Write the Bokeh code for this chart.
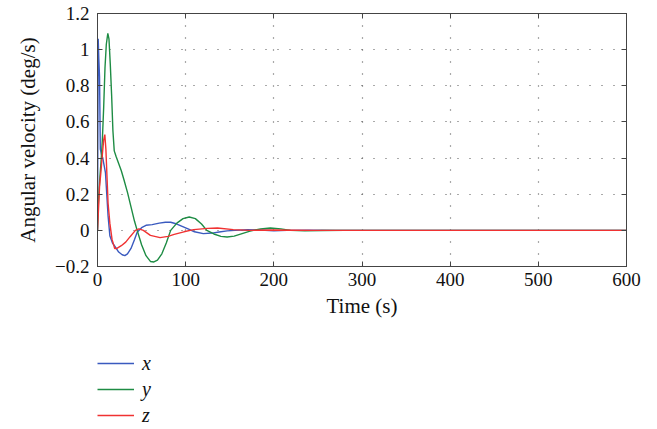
from bokeh.plotting import figure
from bokeh.layouts import column
from bokeh.models import Range1d, LinearAxis, FixedTicker, Legend, LegendItem
from bokeh.embed import file_html
from bokeh.resources import INLINE

# ---- data ----
t_x = [0, 0.8, 1.5, 2.3, 3.2, 4.5, 6, 7.5, 9, 10.5, 12, 14, 17, 20, 24, 28, 31, 34, 38, 42, 45,
       50, 55, 62, 70, 77, 83, 90, 98, 104, 110, 120, 130, 138, 147, 156, 170, 185, 200, 215,
       240, 270, 300, 600]
v_x = [0, 1.06, 0.95, 0.85, 0.45, 0.42, 0.40, 0.36, 0.32, 0.2, 0.08, -0.03, -0.07, -0.09, -0.12,
       -0.135, -0.14, -0.13, -0.1, -0.05, -0.01, 0.015, 0.028, 0.032, 0.04, 0.045, 0.045, 0.035,
       0.018, 0.005, -0.008, -0.018, -0.015, -0.009, -0.003, 0.0, 0.003, 0.002, -0.002, 0.0,
       0.001, 0.0, 0.0, 0.0]

t_y = [0, 1, 2.5, 4, 5.5, 7, 8.5, 10, 11.7, 13, 14.5, 16, 17.5, 19, 21, 24, 27, 30, 34, 38, 42,
       45, 50, 55, 60, 64, 68, 73, 78, 83, 90, 97, 104, 111, 118, 124, 132, 140, 147, 155, 164,
       173, 185, 196, 208, 219, 235, 255, 280, 600]
v_y = [0, 0.15, 0.28, 0.38, 0.5, 0.68, 0.9, 1.03, 1.09, 1.06, 0.92, 0.75, 0.55, 0.44, 0.41, 0.37,
       0.33, 0.28, 0.21, 0.13, 0.05, 0.0, -0.08, -0.14, -0.172, -0.175, -0.165, -0.13, -0.07, 0.0,
       0.04, 0.065, 0.074, 0.065, 0.035, 0.0, -0.02, -0.033, -0.037, -0.032, -0.018, -0.004,
       0.008, 0.013, 0.008, 0.0, -0.003, -0.001, 0.0, 0.0]

t_z = [0, 1, 2.3, 4, 5.5, 7, 8.3, 9.5, 10.5, 12, 14, 16.5, 19.5, 22, 27, 32, 37, 43, 47, 52, 60,
       71, 80, 87, 98, 109, 125, 136, 154, 173, 200, 250, 300, 600]
v_z = [0, 0.1, 0.24, 0.33, 0.42, 0.5, 0.53, 0.45, 0.33, 0.15, 0.04, -0.05, -0.1, -0.1, -0.085,
       -0.065, -0.035, 0.0, 0.008, 0.0, -0.028, -0.04, -0.033, -0.022, -0.008, 0.004, 0.011,
       0.013, 0.004, 0.0, 0.002, 0.0, 0.0, 0.0]

series_names = ["x", "y", "z"]
series_colors = ["#3a5abf", "#1e8c44", "#f03232"]

x_ticks = [0, 100, 200, 300, 400, 500, 600]
y_ticks = [-0.2, 0, 0.2, 0.4, 0.6, 0.8, 1, 1.2]
y_tick_labels = ["\u22120.2", "0", "0.2", "0.4", "0.6", "0.8", "1", "1.2"]

FONT = "Liberation Serif"
AX = "#444444"

p = figure(width=649, height=330, output_backend="svg", toolbar_location=None,
           x_range=Range1d(0, 600), y_range=Range1d(-0.2, 1.2),
           min_border_left=97, min_border_right=23, min_border_top=13, min_border_bottom=64,
           background_fill_color="white", border_fill_color="white")
p.outline_line_color = AX

for ax in (p.xaxis[0], p.yaxis[0]):
    ax.axis_line_color = AX
    ax.major_tick_line_color = AX
    ax.major_tick_in = 5
    ax.major_tick_out = 0
    ax.minor_tick_line_color = None
    ax.major_label_text_font = FONT
    ax.major_label_text_font_size = "19px"
    ax.major_label_text_color = "#111111"
    ax.axis_label_text_font = FONT
    ax.axis_label_text_font_size = "21px"
    ax.axis_label_text_font_style = "normal"
    ax.axis_label_text_color = "#111111"

p.xaxis[0].ticker = FixedTicker(ticks=x_ticks)
p.yaxis[0].ticker = FixedTicker(ticks=y_ticks)
p.yaxis[0].major_label_overrides = {k: v for k, v in zip(y_ticks, y_tick_labels)}
p.xaxis[0].axis_label = "Time (s)"
p.yaxis[0].axis_label = "Angular velocity (deg/s)"
p.xaxis[0].major_label_standoff = 6
p.xaxis[0].axis_label_standoff = 5
p.yaxis[0].major_label_standoff = 8
p.yaxis[0].axis_label_standoff = 12

# top/right axes for inner ticks only (no labels)
top = LinearAxis(ticker=FixedTicker(ticks=x_ticks),
                 major_label_overrides={k: "" for k in x_ticks},
                 major_label_standoff=0, major_tick_in=5, major_tick_out=0,
                 minor_tick_line_color=None, axis_line_color=AX, major_tick_line_color=AX)
right = LinearAxis(ticker=FixedTicker(ticks=y_ticks),
                   major_label_overrides={k: "" for k in y_ticks},
                   major_label_standoff=0, major_tick_in=5, major_tick_out=0,
                   minor_tick_line_color=None, axis_line_color=AX, major_tick_line_color=AX)
p.add_layout(top, "above")
p.add_layout(right, "right")

for g in (p.xgrid[0], p.ygrid[0]):
    g.grid_line_color = "#555555"
    g.grid_line_dash = "1 11"
    g.grid_line_width = 1.2
p.xgrid[0].ticker = FixedTicker(ticks=x_ticks)
p.ygrid[0].ticker = FixedTicker(ticks=y_ticks)

series = [(t_x, v_x), (t_y, v_y), (t_z, v_z)]
for (tt, vv), c in zip(series, series_colors):
    p.line(tt, vv, line_color=c, line_width=1.4)

# ---- legend panel below the chart (its own series copies lie outside its view) ----
lg = figure(width=649, height=98, output_backend="svg", toolbar_location=None,
            x_range=Range1d(-20, -10), y_range=Range1d(-20, -10),
            min_border_left=97, min_border_right=0, min_border_top=20, min_border_bottom=0,
            background_fill_color="white", border_fill_color="white")
lg.axis.visible = False
lg.grid.visible = False
lg.outline_line_color = None
items = []
for n, (tt, vv), c in zip(series_names, series, series_colors):
    r = lg.line(tt, vv, line_color=c, line_width=1.4)
    items.append(LegendItem(label=n, renderers=[r]))
legend = Legend(items=items, location="top_left", orientation="vertical",
                label_text_font=FONT, label_text_font_style="italic", label_text_font_size="20px",
                label_text_color="#111111",
                glyph_width=37, glyph_height=26, label_height=26, spacing=0, padding=0, margin=0,
                label_standoff=8, border_line_color=None, background_fill_alpha=0)
lg.add_layout(legend)

open("out.html", "w").write(file_html(column(p, lg, spacing=0), INLINE))
